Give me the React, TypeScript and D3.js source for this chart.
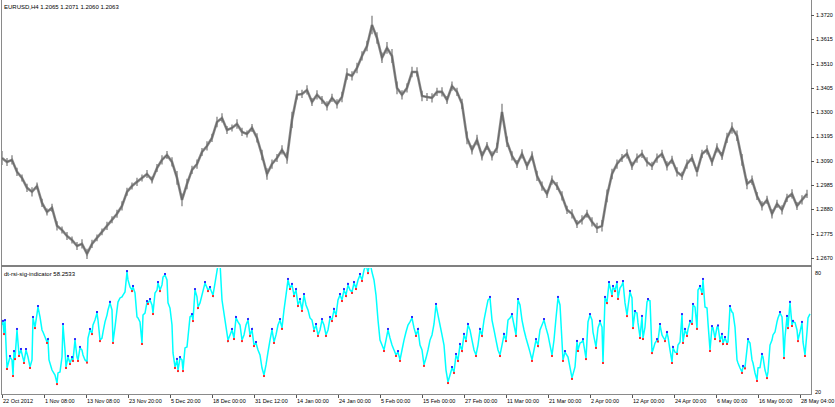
import React from 'react';
import * as d3 from 'd3';

const W = 835;
const H = 407;

const titleText = 'EURUSD,H4  1.2065 1.2071 1.2060 1.2063';
const indicatorText = 'dt-rsi-sig-indicator 58.2533';

const timeLabels = ['22 Oct 2012', '1 Nov 08:00', '13 Nov 08:00', '23 Nov 20:00', '5 Dec 20:00', '18 Dec 00:00', '31 Dec 12:00', '14 Jan 00:00', '24 Jan 00:00', '5 Feb 00:00', '15 Feb 00:00', '27 Feb 00:00', '11 Mar 00:00', '21 Mar 00:00', '2 Apr 00:00', '12 Apr 00:00', '24 Apr 00:00', '6 May 00:00', '16 May 00:00', '28 May 04:00'];
const timeLabelBars = [0, 42, 84, 126, 168, 210, 252, 294, 336, 378, 420, 462, 504, 546, 588, 630, 672, 714, 756, 798];

const priceTicks = [1.2670, 1.2775, 1.2880, 1.2985, 1.3090, 1.3195, 1.3300, 1.3405, 1.3510, 1.3615, 1.3720];
const rsiTicks = [20, 80];

// one sample every 5 bars
const priceStep = 5;
const priceClose = [
  1.3102, 1.3085, 1.3094, 1.3042, 1.3016, 1.2973, 1.2956, 1.2981, 1.2908, 1.2869,
  1.2887, 1.2809, 1.2791, 1.2765, 1.2748, 1.2722, 1.2731, 1.2688, 1.2731, 1.2757,
  1.2783, 1.2809, 1.2835, 1.2861, 1.2895, 1.2956, 1.2981, 1.2999, 1.3016, 1.3033,
  1.3007, 1.3059, 1.3094, 1.3115, 1.3085, 1.3016, 1.2921, 1.2990, 1.3051, 1.3076,
  1.3128, 1.3154, 1.3189, 1.3258, 1.3275, 1.3223, 1.3232, 1.3249, 1.3215, 1.3206,
  1.3232, 1.3189, 1.3115, 1.3033, 1.3076, 1.3102, 1.3137, 1.3102, 1.3267, 1.3375,
  1.3379, 1.3396, 1.3344, 1.3375, 1.3353, 1.3327, 1.3362, 1.3336, 1.3366, 1.3465,
  1.3457, 1.3491, 1.3543, 1.3586, 1.3677, 1.3621, 1.3535, 1.3578, 1.3543, 1.3405,
  1.3375, 1.3405, 1.3474, 1.3474, 1.3370, 1.3366, 1.3362, 1.3388, 1.3388, 1.3353,
  1.3413, 1.3388, 1.3336, 1.3189, 1.3137, 1.3180, 1.3111, 1.3154, 1.3111, 1.3146,
  1.3301, 1.3172, 1.3111, 1.3076, 1.3120, 1.3068, 1.3111, 1.3025, 1.2981, 1.2947,
  1.3007, 1.2981, 1.2938, 1.2878, 1.2861, 1.2817, 1.2835, 1.2861, 1.2826, 1.2800,
  1.2809, 1.2938, 1.3033, 1.3076, 1.3102, 1.3120, 1.3068, 1.3102, 1.3120, 1.3085,
  1.3068, 1.3102, 1.3120, 1.3068, 1.3094, 1.3042, 1.3025, 1.3076, 1.3102, 1.3042,
  1.3120, 1.3137, 1.3085, 1.3146, 1.3111, 1.3189, 1.3232, 1.3198, 1.3094, 1.2990,
  1.3007, 1.2938, 1.2895, 1.2921, 1.2861, 1.2904, 1.2878, 1.2930, 1.2947, 1.2895,
  1.2921, 1.2947,
];
// high-low range of each sample, in pips
const priceRangePips = [
  60, 35, 40, 35, 30, 35, 40, 30, 35, 30,
  35, 40, 30, 35, 30, 35, 40, 45, 35, 30,
  30, 35, 30, 35, 40, 35, 30, 35, 30, 35,
  30, 35, 40, 35, 40, 60, 55, 45, 35, 40,
  35, 40, 35, 45, 40, 35, 30, 40, 35, 30,
  35, 40, 45, 50, 40, 35, 40, 50, 70, 40,
  35, 40, 35, 40, 35, 40, 35, 40, 45, 50,
  40, 45, 40, 45, 80, 50, 45, 50, 60, 55,
  40, 40, 45, 40, 45, 35, 40, 35, 40, 35,
  40, 35, 45, 55, 40, 45, 40, 35, 40, 45,
  70, 45, 40, 35, 40, 35, 40, 45, 40, 35,
  40, 35, 40, 35, 40, 35, 40, 35, 40, 45,
  50, 55, 45, 40, 35, 40, 35, 40, 35, 40,
  35, 40, 35, 40, 35, 40, 35, 40, 35, 40,
  35, 40, 35, 40, 35, 45, 50, 45, 50, 45,
  40, 35, 40, 35, 40, 35, 40, 35, 40, 35,
  40, 35,
];

// [bar, indicator value]
const rsiSeries: [number, number][] = [
  [0, 52.9], [1, 54.4], [2, 49.0], [3, 54.8], [5, 32.1], [8, 37.4], [10, 36.0], [11, 28.7], [12, 39.8], [13, 36.9], [15, 50.5], [17, 38.4], [19, 40.8], [21, 36.9], [22, 35.0], [24, 40.8], [26, 37.4], [28, 32.6], [30, 36.0], [31, 56.3], [33, 51.9], [36, 61.6], [38, 56.8], [40, 50.5], [41, 49.5], [43, 47.1], [45, 44.7], [46, 45.6], [47, 36.0], [50, 31.1], [53, 28.7], [55, 24.8], [56, 29.7], [58, 30.2], [60, 37.4], [61, 52.9], [63, 40.8], [64, 32.6], [66, 37.4], [68, 34.5], [70, 36.9], [71, 36.0], [73, 45.6], [75, 37.4], [76, 36.0], [78, 41.8], [80, 40.8], [81, 38.4], [83, 36.0], [85, 35.2], [86, 46.6], [88, 50.5], [90, 49.0], [91, 52.9], [93, 55.3], [95, 58.7], [96, 55.3], [98, 45.6], [100, 46.6], [101, 49.5], [103, 54.4], [105, 57.7], [106, 60.2], [108, 63.6], [110, 60.2], [111, 44.7], [113, 51.9], [115, 60.2], [116, 64.0], [118, 66.0], [120, 66.5], [121, 67.4], [123, 68.9], [125, 78.5], [126, 74.7], [128, 71.3], [130, 69.8], [131, 71.3], [133, 68.4], [135, 56.8], [136, 56.3], [138, 54.4], [140, 44.2], [141, 57.7], [143, 58.7], [145, 64.0], [146, 63.6], [148, 65.0], [150, 62.6], [151, 58.7], [153, 68.4], [155, 69.8], [156, 73.2], [158, 69.8], [160, 72.3], [161, 76.1], [163, 77.1], [165, 74.7], [166, 63.6], [168, 61.1], [170, 52.9], [171, 39.4], [173, 32.6], [175, 36.0], [176, 31.1], [178, 36.9], [180, 36.0], [181, 31.1], [183, 41.8], [185, 42.3], [186, 47.1], [188, 56.8], [190, 57.7], [191, 55.3], [193, 69.8], [195, 66.5], [196, 61.6], [198, 63.6],
  [203, 73.2], [206, 69.8], [208, 70.8], [211, 67.4], [213, 73.2], [216, 82], [218, 83], [220, 65.0], [223, 55.3], [226, 45.6], [228, 48.1], [230, 50.5], [232, 46.6], [234, 56.3], [236, 54.4], [238, 52.9], [240, 45.6], [242, 48.1], [244, 52.9], [246, 55.3], [248, 48.1], [250, 50.5], [252, 43.2], [254, 44.2], [256, 40.8], [258, 38.4], [260, 32.1], [262, 28.7], [264, 33.6], [266, 39.8], [268, 45.6], [270, 50.5], [272, 44.7], [274, 48.1], [276, 52.9], [278, 55.3], [280, 51.5], [282, 60.2], [284, 67.4], [286, 74.7], [288, 70.8], [290, 72.3], [292, 67.4], [294, 69.8], [296, 62.6], [298, 65.0], [300, 60.2], [302, 67.4], [304, 62.6], [306, 60.2], [308, 56.3], [310, 55.3], [312, 50.5], [314, 52.9], [316, 48.1], [318, 50.5], [320, 55.3], [322, 52.9], [324, 48.1], [326, 50.5], [328, 56.3], [330, 55.3], [332, 60.2], [334, 57.7], [336, 65.0], [338, 67.4], [340, 65.0], [342, 69.8], [344, 67.4], [346, 72.3], [348, 69.8], [350, 68.9], [352, 73.2], [354, 70.8], [356, 74.7], [358, 77.1], [360, 74.7], [362, 79.5], [364, 82], [366, 78.5], [368, 83], [370, 78.5], [372, 74.7], [374, 67.4], [376, 55.3], [378, 45.6], [380, 43.2], [382, 40.8], [384, 45.6], [386, 50.5], [388, 46.6], [390, 43.2], [392, 40.8], [394, 38.4], [396, 39.8], [398, 36.0], [400, 40.8], [402, 45.6], [404, 49.5], [406, 52.9], [408, 54.4], [410, 56.3], [412, 51.5], [414, 48.1], [416, 50.5], [418, 43.2], [420, 40.8], [422, 33.6], [424, 36.9], [426, 40.8], [428, 45.6], [430, 48.1], [432, 53.4], [434, 62.6], [436, 57.7], [438, 52.9], [440, 48.1], [442, 43.2], [444, 31.1], [446, 25.3], [448, 28.7], [450, 32.1], [452, 30.2], [454, 38.4], [456, 36.0], [458, 43.2], [460, 40.8], [462, 48.1], [464, 45.6], [466, 52.9], [468, 50.5], [470, 45.6], [472, 40.8], [474, 38.4], [476, 43.2], [478, 50.5], [480, 48.1], [482, 55.3], [484, 60.2], [486, 65.0], [488, 66.0], [490, 55.3], [492, 50.5], [494, 45.6], [496, 40.8], [498, 38.4], [500, 43.2], [502, 48.1], [504, 45.6], [506, 55.3], [508, 56.3], [510, 57.7], [512, 52.9], [514, 48.1], [516, 65.0], [518, 62.6], [520, 55.3], [522, 50.5], [524, 46.6], [526, 43.2], [528, 39.8], [530, 36.0], [532, 40.8], [534, 45.6], [536, 43.2], [538, 50.5], [540, 52.9], [542, 55.3], [544, 51.5], [546, 48.1], [548, 43.2], [550, 38.4], [552, 45.6], [554, 56.3], [556, 66.0], [558, 62.6], [561, 36.0],
  [563, 39.8], [566, 37.4], [570, 27.3], [573, 32.6], [575, 44.7], [576, 40.8], [578, 44.2], [580, 44.7], [581, 45.6], [584, 36.9], [586, 54.4], [588, 57.7], [590, 55.3], [591, 49.5], [594, 42.3], [596, 51.5], [598, 54.4], [600, 51.9], [601, 35.0], [603, 66.0], [605, 64.0], [607, 73.2], [610, 67.4], [611, 71.3], [613, 69.8], [615, 73.2], [616, 66.0], [618, 70.8], [620, 72.3], [621, 73.7], [623, 63.6], [625, 57.7], [626, 61.6], [628, 68.9], [630, 66.0], [631, 51.9], [633, 59.2], [635, 58.7], [636, 53.9], [638, 47.1], [640, 56.8], [641, 46.6], [643, 51.9], [645, 64.0], [646, 65.0], [648, 64.6], [650, 39.8], [651, 40.8], [653, 44.2], [655, 45.6], [656, 45.4], [658, 52.9], [660, 48.1], [661, 47.1], [663, 45.6], [665, 49.0], [666, 47.1], [668, 40.8], [670, 35.0], [671, 41.8], [673, 39.8], [675, 39.4], [676, 43.2], [678, 44.7], [680, 57.7], [681, 44.7], [683, 50.5], [685, 48.1], [686, 50.8], [688, 54.4], [690, 53.9], [691, 62.6], [693, 61.6], [695, 51.5], [696, 69.8], [698, 71.3], [700, 68.4], [701, 74.7], [703, 61.6], [705, 61.1], [706, 53.9], [708, 40.8], [710, 51.9], [711, 51.6], [713, 46.6], [715, 51.9], [716, 52.2], [718, 45.6], [720, 48.1], [721, 44.2], [723, 46.6], [725, 44.2], [726, 44.7], [728, 61.6], [730, 59.2], [731, 58.7], [733, 51.9], [735, 36.0], [736, 34.5], [738, 32.1], [740, 30.2], [741, 32.6], [743, 32.4], [746, 45.6], [748, 44.2], [750, 36.0], [751, 34.5], [753, 29.7], [755, 26.3], [756, 32.1], [758, 32.3], [760, 38.4], [761, 37.4], [763, 31.1], [765, 27.7], [766, 30.2], [768, 43.2], [770, 45.6], [771, 48.1], [773, 49.5], [775, 54.4], [776, 56.3], [778, 58.7], [780, 56.8], [781, 49.0], [782, 37.4], [783, 47.1], [785, 56.8], [786, 51.9], [788, 63.6], [790, 52.9], [791, 54.4], [793, 54.1], [795, 50.5], [796, 45.6], [798, 49.5], [800, 53.9], [801, 44.7], [803, 38.4], [805, 49.5], [806, 56.3], [808, 58.25],
];

const FONT = '"Liberation Sans", Arial, sans-serif';

export default function App() {
  const x = d3.scaleLinear().domain([0, 808]).range([2, 810]);
  const yP = d3.scaleLinear().domain([1.2670, 1.3720]).range([258, 15]);
  const yR = d3.scaleLinear().domain([20, 80]).range([393, 269]);

  const prices = priceClose.map((c, i) => ({
    bar: i * priceStep,
    c,
    hi: c + priceRangePips[i] / 20000,
    lo: c - priceRangePips[i] / 20000,
  }));

  const closeLine = d3.line<typeof prices[number]>()
    .x(d => x(d.bar))
    .y(d => yP(d.c));
  const rsiLine = d3.line<[number, number]>()
    .x(d => x(d[0]))
    .y(d => yR(d[1]));

  const peaks: [number, number][] = [];
  const troughs: [number, number][] = [];
  for (let i = 1; i < rsiSeries.length - 1; i++) {
    const p = rsiSeries[i - 1][1], v = rsiSeries[i][1], n = rsiSeries[i + 1][1];
    if (v > p && v >= n) peaks.push(rsiSeries[i]);
    else if (v < p && v <= n) troughs.push(rsiSeries[i]);
  }

  const frame = '#8a8a8a';

  return (
    <svg width={W} height={H} style={{ position: 'fixed', left: 0, top: 0, background: '#fff' }}
      fontFamily={FONT}>
      <defs>
        <clipPath id="upper"><rect x={2} y={0} width={809} height={265} /></clipPath>
        <clipPath id="lower"><rect x={2} y={268} width={809} height={126} /></clipPath>
      </defs>
      <rect x={0} y={0} width={W} height={H} fill="#fff" />

      {/* price panel */}
      <g clipPath="url(#upper)">
        <path d={closeLine(prices) || ''} fill="none" stroke="#8c8c8c" strokeWidth={2.6} strokeLinejoin="miter" strokeMiterlimit={3} />
        {prices.map((d, i) => (
          <line key={i} x1={x(d.bar)} x2={x(d.bar)} y1={yP(d.hi)} y2={yP(d.lo)} stroke="#777" strokeWidth={1.2} />
        ))}
        <path d={closeLine(prices) || ''} fill="none" stroke="#666" strokeWidth={1} />
      </g>

      {/* indicator panel */}
      <g clipPath="url(#lower)">
        <path d={rsiLine(rsiSeries) || ''} fill="none" stroke="#00ffff" strokeWidth={1.5} />
        {peaks.map((d, i) => (
          <rect key={'p' + i} x={x(d[0]) - 1} y={yR(d[1]) - 2} width={2} height={2} fill="#2a2aff" />
        ))}
        {troughs.map((d, i) => (
          <rect key={'t' + i} x={x(d[0]) - 1} y={yR(d[1])} width={2} height={2} fill="#ff2a2a" />
        ))}
      </g>

      {/* frame */}
      <line x1={1.5} y1={0} x2={1.5} y2={395} stroke={frame} strokeWidth={1} />
      <line x1={811.5} y1={0} x2={811.5} y2={395} stroke={frame} strokeWidth={1} />
      <line x1={1} y1={266} x2={812} y2={266} stroke="#808080" strokeWidth={2} />
      <line x1={1} y1={394.5} x2={812} y2={394.5} stroke={frame} strokeWidth={1} />

      {/* titles */}
      <text x={4} y={9} fontSize={6} fill="#000">{titleText}</text>
      <text x={4} y={276} fontSize={6} fill="#000">{indicatorText}</text>

      {/* price axis */}
      {priceTicks.map(t => (
        <g key={t}>
          <line x1={811} x2={814} y1={Math.round(yP(t)) + 0.5} y2={Math.round(yP(t)) + 0.5} stroke="#555" strokeWidth={1} />
          <text x={816} y={yP(t)} dy="0.35em" fontSize={5.5} fill="#000">{t.toFixed(4)}</text>
        </g>
      ))}

      {/* indicator axis */}
      {rsiTicks.map(t => (
        <text key={t} x={815} y={t === 80 ? yR(t) + 4 : yR(t) - 1} dy="0.35em" fontSize={5.5} fill="#000">{t}</text>
      ))}

      {/* time axis */}
      {timeLabels.map((lab, i) => (
        <g key={lab}>
          <line x1={Math.round(x(timeLabelBars[i])) + 0.5} x2={Math.round(x(timeLabelBars[i])) + 0.5} y1={395} y2={398} stroke="#555" strokeWidth={1} />
          <text x={x(timeLabelBars[i]) + 1} y={403} fontSize={5.5} fill="#000">{lab}</text>
        </g>
      ))}
    </svg>
  );
}
